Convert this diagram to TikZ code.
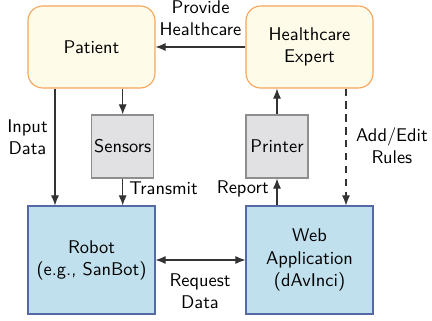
\documentclass[tikz,border=0pt]{standalone}
\usetikzlibrary{arrows.meta,calc}
\newlength\upx
\setlength\upx{0.543pt}
\definecolor{yfill}{HTML}{FEFBE8}
\definecolor{ydraw}{HTML}{F5A55A}
\definecolor{bfill}{HTML}{C1E0ED}
\definecolor{bdraw}{HTML}{5668A6}
\definecolor{gfill}{HTML}{E1E1E3}
\definecolor{gdraw}{HTML}{8E8E8E}
\definecolor{lcol}{HTML}{333333}
\tikzset{
  actor/.style={draw=ydraw,fill=yfill,line width=0.6pt,rounded corners=8pt,
    minimum width=127\upx,minimum height=82\upx,align=center,inner sep=0pt},
  sysbox/.style={draw=bdraw,fill=bfill,line width=0.6pt,
    minimum width=127\upx,minimum height=108\upx,align=center,inner sep=0pt},
  devbox/.style={draw=gdraw,fill=gfill,line width=0.6pt,
    minimum width=62\upx,minimum height=63\upx,align=center,inner sep=0pt},
  arr/.style={draw=lcol,line width=0.6pt,-{Latex[length=5.5pt,width=4.4pt]}},
  lbl/.style={align=center,inner sep=0pt,text=black}
}
\begin{document}
\begin{tikzpicture}[x=\upx,y=-\upx,font=\sffamily]
\useasboundingbox (0,0) rectangle (432,321);
\node[actor] (patient) at (91.5,47) {Patient};
\node[actor] (expert) at (309.5,47) {Healthcare\\Expert};
\node[devbox] (sensors) at (122.7,146.5) {Sensors};
\node[devbox] (printer) at (277,146.5) {Printer};
\node[sysbox] (robot) at (91.5,260) {Robot\\(e.g., SanBot)};
\node[sysbox] (web) at (309.5,260) {Web\\Application\\(dAvInci)};

\draw[arr] (expert) -- (patient);
\node[lbl] (provide) at (200.5,18) {Provide\\Healthcare};

\draw[arr] (sensors.north |- patient.south) -- (sensors.north);
\draw[arr] ([xshift=-36.5\upx]patient.south) -- ([xshift=-36.5\upx]robot.north);
\node[lbl] (input) at (27.5,137) {Input\\Data};

\draw[arr] (sensors.south) -- (sensors.south |- robot.north);
\node[lbl,anchor=west] (transmit) at (129,188.5) {Transmit};

\draw[arr] (printer.south |- web.north) -- (printer.south);
\node[lbl,anchor=east] (report) at (269,188.5) {Report};
\draw[arr] (printer.north) -- (printer.north |- expert.south);

\draw[arr,dash pattern=on 4pt off 3pt] ([xshift=36.5\upx]expert.south) -- ([xshift=36.5\upx]web.north);
\node[lbl] (rules) at (392,146) {Add/Edit\\Rules};

\draw[arr,{Latex[length=5.5pt,width=4.4pt]}-{Latex[length=5.5pt,width=4.4pt]}] (robot) -- (web);
\node[lbl] (request) at (200,291) {Request\\Data};
\end{tikzpicture}
\end{document}
